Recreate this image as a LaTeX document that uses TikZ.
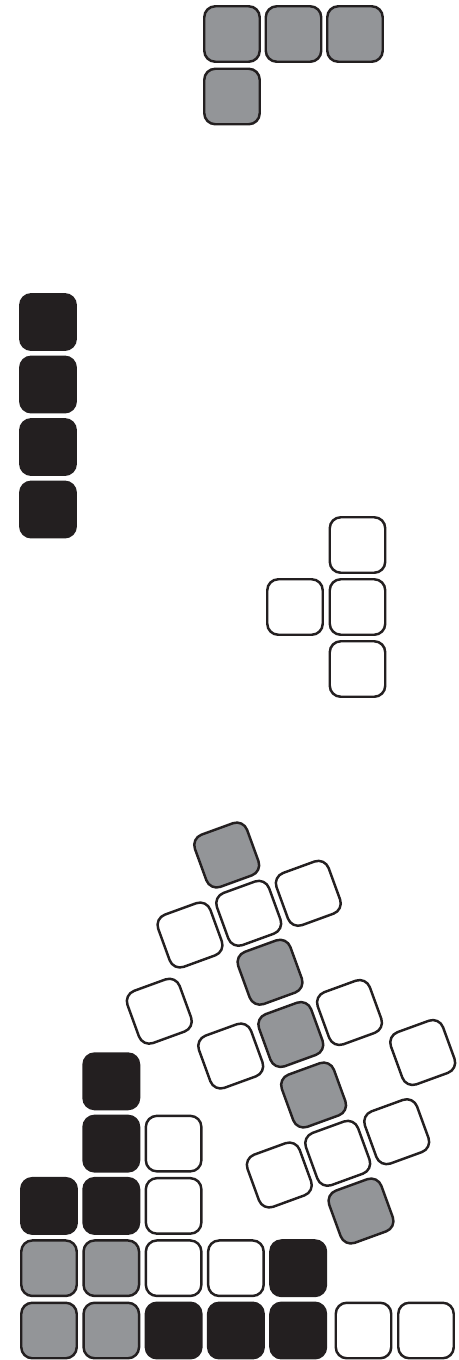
\documentclass[tikz,border=0pt]{standalone}
\definecolor{tetdark}{HTML}{231F20}
\definecolor{tetgray}{HTML}{939598}
\begin{document}
\begin{tikzpicture}[x=0.02cm,y=-0.02cm,
        blk/.style={draw=tetdark,line width=1.4pt,rounded corners=0.22cm,minimum size=1.11cm,inner sep=0pt},
        grayblk/.style={blk,fill=tetgray},
        darkblk/.style={blk,fill=tetdark},
        whiteblk/.style={blk,fill=white}]
            \useasboundingbox (0,0) rectangle (458,1360);
            % top piece
            \foreach \i/\x in {1/232,2/293.5,3/355} {
                \node[grayblk] (top\i) at (\x,34) {};
            }
            \node[grayblk] (top4) at (232,96.5) {};
            % long bar
            \foreach \i in {0,...,3} {
                \node[darkblk] (bar\i) at (48,322+62.5*\i) {};
            }
            % T piece
            \foreach \i in {0,1,2} {
                \node[whiteblk] (tee\i) at (357.5,545+62*\i) {};
            }
            \node[whiteblk] (tee3) at (295,607) {};
            % tilted pieces
            \foreach \n/\x/\y/\s in {a/226.7/855/grayblk,b/190/935/whiteblk,c/248.7/913.3/whiteblk,
                    d/308.3/893.3/whiteblk,e/270/972.2/grayblk,f/159.3/1011.2/whiteblk,
                    g/230.7/1056/whiteblk,h/290.8/1034.5/grayblk,i/349.5/1012.5/whiteblk,
                    j/422.7/1052.5/whiteblk,k/313.6/1095/grayblk,l/279.3/1175/whiteblk,
                    m/337.7/1153.3/whiteblk,n/396.7/1131.7/whiteblk,o/361/1211/grayblk} {
                \node[\s,rotate=20] (tilt\n) at (\x,\y) {};
            }
            % stack
            \foreach \c/\r/\s in {0/0/grayblk,1/0/grayblk,2/0/darkblk,3/0/darkblk,4/0/darkblk,
                    0/1/grayblk,1/1/grayblk,2/1/whiteblk,3/1/whiteblk,4/1/darkblk,
                    0/2/darkblk,1/2/darkblk,2/2/whiteblk,1/3/darkblk,2/3/whiteblk,1/4/darkblk} {
                \node[\s] (stk\c\r) at (49+62.3*\c,1330.5-62.3*\r) {};
            }
            \node[whiteblk] (stk50) at (363.5,1330.5) {};
            \node[whiteblk] (stk60) at (426,1330.5) {};
        \end{tikzpicture}
\end{document}
